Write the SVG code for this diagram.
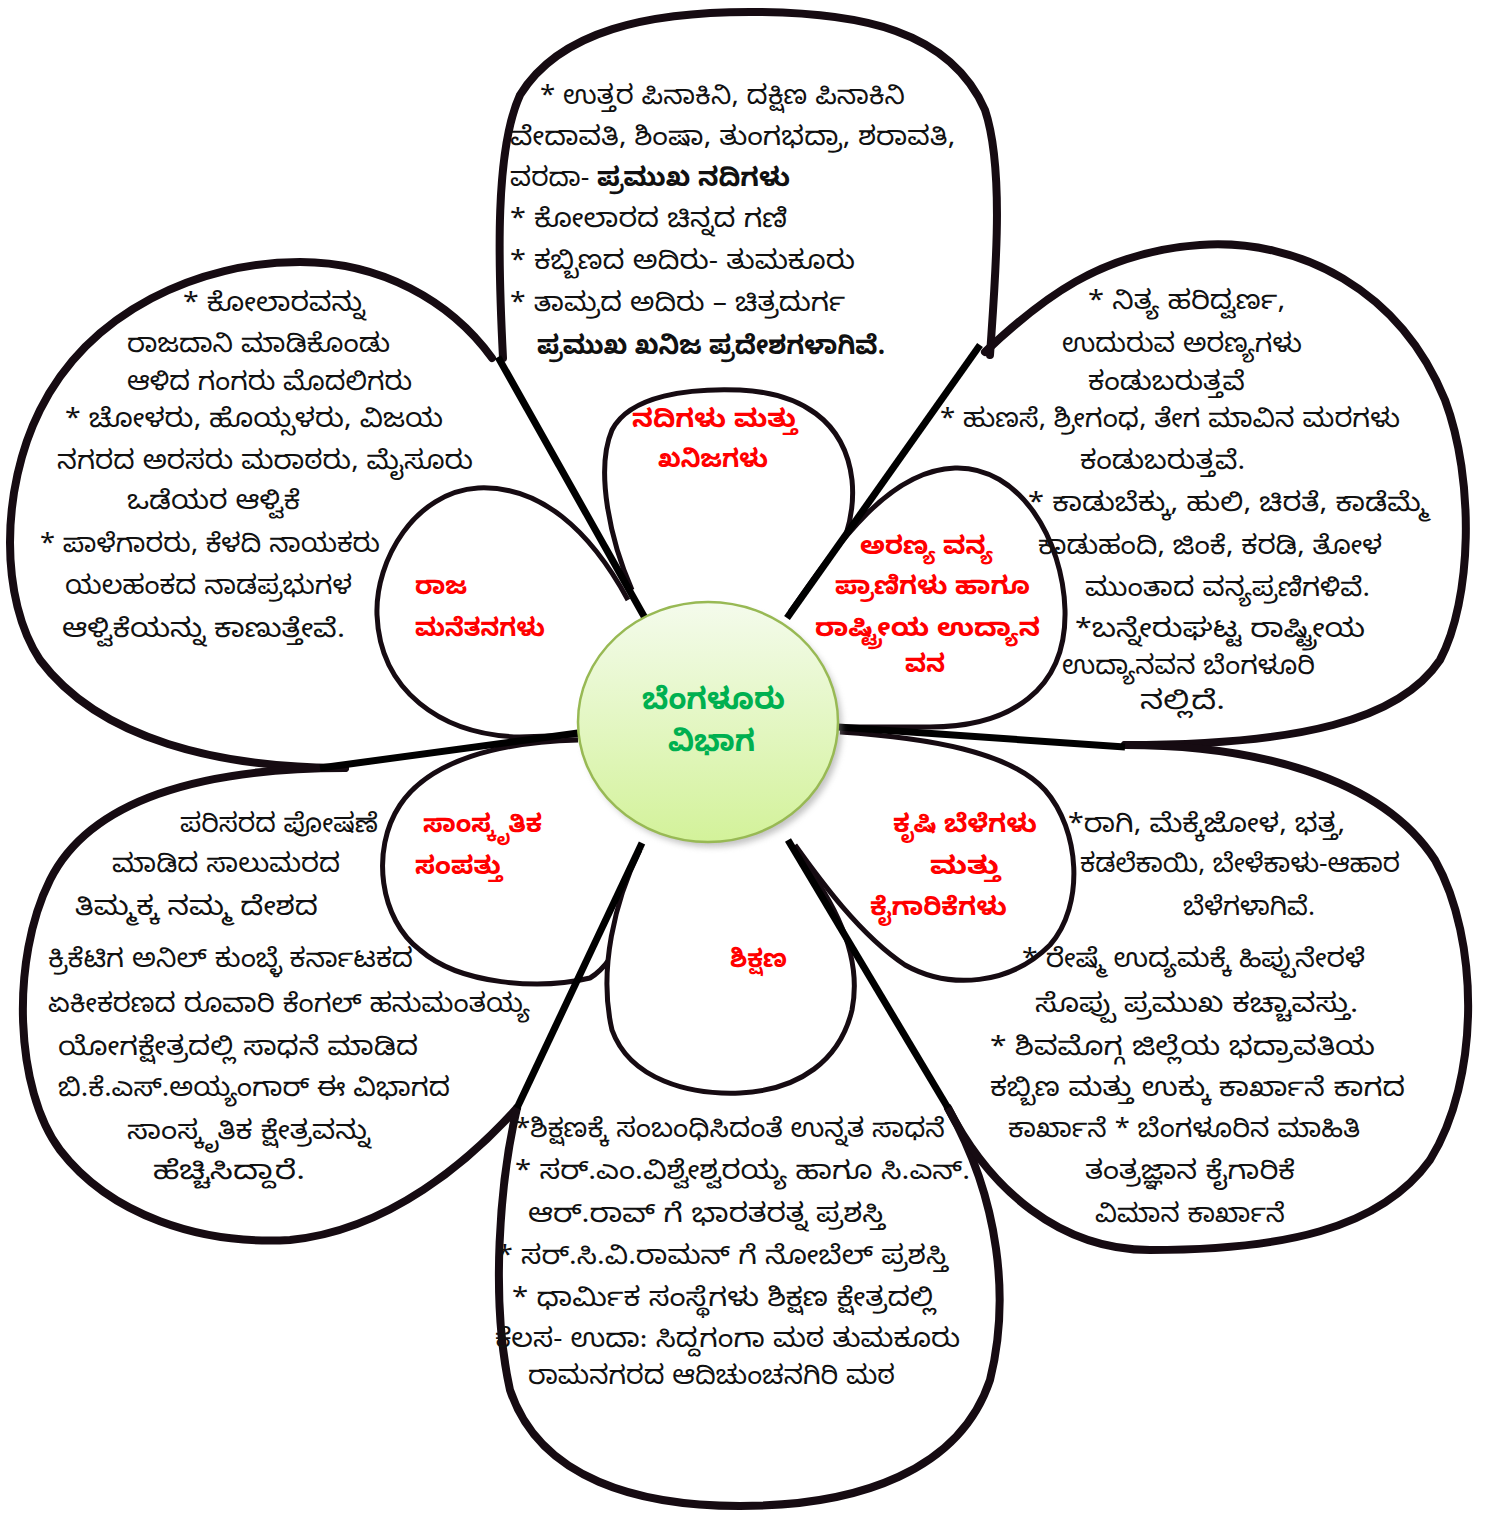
<svg xmlns="http://www.w3.org/2000/svg" width="1497" height="1513" viewBox="0 0 1497 1513">
<defs>
<linearGradient id="cg" x1="0" y1="0" x2="0" y2="1">
<stop offset="0" stop-color="#f4fbec"/>
<stop offset="1" stop-color="#d3f29a"/>
</linearGradient>
<filter id="sh" x="-20%" y="-20%" width="140%" height="140%"><feGaussianBlur stdDeviation="3"/></filter>
<style>
.big{fill:none;stroke:#160b12;stroke-width:8;stroke-linecap:round}
.small{fill:#fff;stroke:#160b12;stroke-width:5}
.ln{stroke:#000;stroke-width:7}
text{font-family:'Noto Sans Kannada','Tunga','Lohit Kannada','Noto Sans',sans-serif}
.t{font-size:26px;fill:#111}
.b{font-weight:bold}
.r{font-size:25px;font-weight:bold;fill:#ff0000}
.g{font-size:30px;font-weight:bold;fill:#00b050}
</style>
</defs>
<rect width="1497" height="1513" fill="#fff"/>

<g id="petal-top"><path class="big" d="M503,358 C498,260 495,150 520,95 C560,30 650,12 750,12 C860,12 950,30 985,110 C1005,170 995,280 990,355"/></g>
<g id="petal-top-right"><path class="big" d="M985,352 C1040,300 1100,252 1200,245 C1300,238 1400,290 1445,400 C1475,480 1472,600 1440,660 C1400,720 1300,745 1125,745"/></g>
<g id="petal-top-left"><path class="big" d="M492,358 C450,300 380,262 300,262 C200,262 90,310 40,410 C0,490 0,600 40,660 C100,740 220,768 345,768"/></g>
<g id="petal-bottom-left"><path class="big" d="M345,768 C200,768 90,800 50,880 C10,960 15,1090 60,1150 C110,1215 200,1245 290,1240 C390,1230 470,1160 517,1108"/></g>
<g id="petal-bottom"><path class="big" d="M517,1108 C500,1180 490,1300 510,1390 C540,1480 640,1506 740,1506 C860,1506 960,1470 990,1380 C1010,1300 1000,1200 948,1108"/></g>
<g id="petal-bottom-right"><path class="big" d="M1125,745 C1250,745 1380,775 1435,860 C1480,940 1480,1080 1430,1160 C1380,1230 1280,1250 1150,1250 C1060,1250 990,1190 948,1108"/></g>

<g id="inner-top"><path class="small" d="M632,590 C610,540 595,470 612,430 C630,395 690,388 740,390 C800,393 845,420 852,480 C858,540 820,590 795,615"/></g>
<g id="inner-left"><path class="small" d="M628,600 C590,530 540,485 478,488 C415,492 375,560 377,615 C380,690 440,735 520,737 L578,735"/></g>
<g id="inner-right"><path class="small" d="M790,612 C840,540 890,470 955,468 C1020,466 1063,540 1065,610 C1067,690 1010,727 930,727 L840,727"/></g>
<g id="inner-lower-left"><path class="small" d="M578,740 C500,742 430,760 400,805 C370,850 380,920 420,950 C460,985 540,990 590,978 C620,960 640,900 645,850"/></g>
<g id="inner-lower-right"><path class="small" d="M840,732 C930,738 1010,752 1045,790 C1080,830 1085,905 1050,945 C1010,985 950,990 905,965 C860,935 820,880 795,845"/></g>
<g id="inner-bottom"><path class="small" d="M640,850 C615,900 598,970 612,1030 C630,1080 690,1095 740,1093 C800,1090 840,1060 852,1010 C862,960 840,905 790,845"/></g>

<g id="connectors">
<line class="ln" x1="498" y1="357" x2="645" y2="618"/>
<line class="ln" x1="980" y1="345" x2="787" y2="618"/>
<line class="ln" x1="320" y1="768" x2="578" y2="733"/>
<line class="ln" x1="838" y1="727" x2="1125" y2="747"/>
<line class="ln" x1="642" y1="843" x2="517" y2="1108"/>
<line class="ln" x1="788" y1="840" x2="948" y2="1108"/>
</g>

<g id="center">
<ellipse cx="712" cy="727" rx="130" ry="120" fill="#888" opacity="0.5" filter="url(#sh)"/>
<ellipse cx="708" cy="722" rx="130" ry="120" fill="url(#cg)" stroke="#98b954" stroke-width="2.5"/>
<text class="g" x="642" y="709" textLength="143" lengthAdjust="spacingAndGlyphs">ಬೆಂಗಳೂರು</text>
<text class="g" x="668" y="751" textLength="87" lengthAdjust="spacingAndGlyphs">ವಿಭಾಗ</text>
</g>

<g id="labels">
<text class="r" x="632" y="427" textLength="165" lengthAdjust="spacingAndGlyphs">ನದಿಗಳು ಮತ್ತು</text>
<text class="r" x="658" y="467" textLength="110" lengthAdjust="spacingAndGlyphs">ಖನಿಜಗಳು</text>
<text class="r" x="860" y="554" textLength="133" lengthAdjust="spacingAndGlyphs">ಅರಣ್ಯ ವನ್ಯ</text>
<text class="r" x="835" y="594" textLength="195" lengthAdjust="spacingAndGlyphs">ಪ್ರಾಣಿಗಳು ಹಾಗೂ</text>
<text class="r" x="815" y="636" textLength="225" lengthAdjust="spacingAndGlyphs">ರಾಷ್ಟ್ರೀಯ ಉದ್ಯಾನ</text>
<text class="r" x="905" y="672" textLength="40" lengthAdjust="spacingAndGlyphs">ವನ</text>
<text class="r" x="415" y="594" textLength="52" lengthAdjust="spacingAndGlyphs">ರಾಜ</text>
<text class="r" x="415" y="636" textLength="130" lengthAdjust="spacingAndGlyphs">ಮನೆತನಗಳು</text>
<text class="r" x="423" y="832" textLength="119" lengthAdjust="spacingAndGlyphs">ಸಾಂಸ್ಕೃತಿಕ</text>
<text class="r" x="415" y="874" textLength="87" lengthAdjust="spacingAndGlyphs">ಸಂಪತ್ತು</text>
<text class="r" x="893" y="832" textLength="144" lengthAdjust="spacingAndGlyphs">ಕೃಷಿ ಬೆಳೆಗಳು</text>
<text class="r" x="930" y="874" textLength="70" lengthAdjust="spacingAndGlyphs">ಮತ್ತು</text>
<text class="r" x="870" y="915" textLength="137" lengthAdjust="spacingAndGlyphs">ಕೈಗಾರಿಕೆಗಳು</text>
<text class="r" x="730" y="967" textLength="57" lengthAdjust="spacingAndGlyphs">ಶಿಕ್ಷಣ</text>
</g>

<g id="text-top">
<text class="t" x="540" y="104" textLength="365" lengthAdjust="spacingAndGlyphs">* ಉತ್ತರ ಪಿನಾಕಿನಿ, ದಕ್ಷಿಣ ಪಿನಾಕಿನಿ</text>
<text class="t" x="510" y="145" textLength="445" lengthAdjust="spacingAndGlyphs">ವೇದಾವತಿ, ಶಿಂಷಾ, ತುಂಗಭದ್ರಾ, ಶರಾವತಿ,</text>
<text class="t" x="510" y="186" textLength="280" lengthAdjust="spacingAndGlyphs">ವರದಾ- <tspan class="b">ಪ್ರಮುಖ ನದಿಗಳು</tspan></text>
<text class="t" x="510" y="227" textLength="277" lengthAdjust="spacingAndGlyphs">* ಕೋಲಾರದ ಚಿನ್ನದ ಗಣಿ</text>
<text class="t" x="510" y="269" textLength="345" lengthAdjust="spacingAndGlyphs">* ಕಬ್ಬಿಣದ ಅದಿರು- ತುಮಕೂರು</text>
<text class="t" x="510" y="311" textLength="335" lengthAdjust="spacingAndGlyphs">* ತಾಮ್ರದ ಅದಿರು – ಚಿತ್ರದುರ್ಗ</text>
<text class="t b" x="537" y="354" textLength="348" lengthAdjust="spacingAndGlyphs">ಪ್ರಮುಖ ಖನಿಜ ಪ್ರದೇಶಗಳಾಗಿವೆ.</text>
</g>

<g id="text-top-left">
<text class="t" x="183" y="311" textLength="182" lengthAdjust="spacingAndGlyphs">* ಕೋಲಾರವನ್ನು</text>
<text class="t" x="127" y="352" textLength="263" lengthAdjust="spacingAndGlyphs">ರಾಜದಾನಿ ಮಾಡಿಕೊಂಡು</text>
<text class="t" x="127" y="390" textLength="285" lengthAdjust="spacingAndGlyphs">ಆಳಿದ ಗಂಗರು ಮೊದಲಿಗರು</text>
<text class="t" x="65" y="427" textLength="378" lengthAdjust="spacingAndGlyphs">* ಚೋಳರು, ಹೊಯ್ಸಳರು, ವಿಜಯ</text>
<text class="t" x="57" y="469" textLength="416" lengthAdjust="spacingAndGlyphs">ನಗರದ ಅರಸರು ಮರಾಠರು, ಮೈಸೂರು</text>
<text class="t" x="127" y="509" textLength="173" lengthAdjust="spacingAndGlyphs">ಒಡೆಯರ ಆಳ್ವಿಕೆ</text>
<text class="t" x="40" y="552" textLength="340" lengthAdjust="spacingAndGlyphs">* ಪಾಳೆಗಾರರು, ಕೆಳದಿ ನಾಯಕರು</text>
<text class="t" x="65" y="594" textLength="287" lengthAdjust="spacingAndGlyphs">ಯಲಹಂಕದ ನಾಡಪ್ರಭುಗಳ</text>
<text class="t" x="62" y="637" textLength="283" lengthAdjust="spacingAndGlyphs">ಆಳ್ವಿಕೆಯನ್ನು ಕಾಣುತ್ತೇವೆ.</text>
</g>

<g id="text-top-right">
<text class="t" x="1088" y="309" textLength="197" lengthAdjust="spacingAndGlyphs">* ನಿತ್ಯ ಹರಿದ್ವರ್ಣ,</text>
<text class="t" x="1062" y="352" textLength="240" lengthAdjust="spacingAndGlyphs">ಉದುರುವ ಅರಣ್ಯಗಳು</text>
<text class="t" x="1088" y="390" textLength="157" lengthAdjust="spacingAndGlyphs">ಕಂಡುಬರುತ್ತವೆ</text>
<text class="t" x="940" y="427" textLength="460" lengthAdjust="spacingAndGlyphs">* ಹುಣಸೆ, ಶ್ರೀಗಂಧ, ತೇಗ ಮಾವಿನ ಮರಗಳು</text>
<text class="t" x="1080" y="469" textLength="165" lengthAdjust="spacingAndGlyphs">ಕಂಡುಬರುತ್ತವೆ.</text>
<text class="t" x="1028" y="511" textLength="400" lengthAdjust="spacingAndGlyphs">* ಕಾಡುಬೆಕ್ಕು, ಹುಲಿ, ಚಿರತೆ, ಕಾಡೆಮ್ಮೆ</text>
<text class="t" x="1038" y="554" textLength="344" lengthAdjust="spacingAndGlyphs">ಕಾಡುಹಂದಿ, ಜಿಂಕೆ, ಕರಡಿ, ತೋಳ</text>
<text class="t" x="1085" y="596" textLength="285" lengthAdjust="spacingAndGlyphs">ಮುಂತಾದ ವನ್ಯಪ್ರಣಿಗಳಿವೆ.</text>
<text class="t" x="1075" y="637" textLength="290" lengthAdjust="spacingAndGlyphs">*ಬನ್ನೇರುಘಟ್ಟ ರಾಷ್ಟ್ರೀಯ</text>
<text class="t" x="1062" y="674" textLength="253" lengthAdjust="spacingAndGlyphs">ಉದ್ಯಾನವನ ಬೆಂಗಳೂರಿ</text>
<text class="t" x="1140" y="709" textLength="85" lengthAdjust="spacingAndGlyphs">ನಲ್ಲಿದೆ.</text>
</g>

<g id="text-bottom-left">
<text class="t" x="180" y="832" textLength="198" lengthAdjust="spacingAndGlyphs">ಪರಿಸರದ ಪೋಷಣೆ</text>
<text class="t" x="112" y="872" textLength="228" lengthAdjust="spacingAndGlyphs">ಮಾಡಿದ ಸಾಲುಮರದ</text>
<text class="t" x="75" y="915" textLength="243" lengthAdjust="spacingAndGlyphs">ತಿಮ್ಮಕ್ಕ ನಮ್ಮ ದೇಶದ</text>
<text class="t" x="48" y="967" textLength="365" lengthAdjust="spacingAndGlyphs">ಕ್ರಿಕೆಟಿಗ ಅನಿಲ್ ಕುಂಬ್ಳೆ ಕರ್ನಾಟಕದ</text>
<text class="t" x="48" y="1012" textLength="482" lengthAdjust="spacingAndGlyphs">ಏಕೀಕರಣದ ರೂವಾರಿ ಕೆಂಗಲ್ ಹನುಮಂತಯ್ಯ</text>
<text class="t" x="58" y="1055" textLength="360" lengthAdjust="spacingAndGlyphs">ಯೋಗಕ್ಷೇತ್ರದಲ್ಲಿ ಸಾಧನೆ ಮಾಡಿದ</text>
<text class="t" x="58" y="1096" textLength="392" lengthAdjust="spacingAndGlyphs">ಬಿ.ಕೆ.ಎಸ್.ಅಯ್ಯಂಗಾರ್ ಈ ವಿಭಾಗದ</text>
<text class="t" x="127" y="1139" textLength="243" lengthAdjust="spacingAndGlyphs">ಸಾಂಸ್ಕೃತಿಕ ಕ್ಷೇತ್ರವನ್ನು</text>
<text class="t" x="153" y="1179" textLength="152" lengthAdjust="spacingAndGlyphs">ಹೆಚ್ಚಿಸಿದ್ದಾರೆ.</text>
</g>

<g id="text-bottom-right">
<text class="t" x="1068" y="832" textLength="277" lengthAdjust="spacingAndGlyphs">*ರಾಗಿ, ಮೆಕ್ಕೆಜೋಳ, ಭತ್ತ,</text>
<text class="t" x="1080" y="872" textLength="320" lengthAdjust="spacingAndGlyphs">ಕಡಲೆಕಾಯಿ, ಬೇಳೆಕಾಳು-ಆಹಾರ</text>
<text class="t" x="1183" y="915" textLength="132" lengthAdjust="spacingAndGlyphs">ಬೆಳೆಗಳಾಗಿವೆ.</text>
<text class="t" x="1022" y="967" textLength="343" lengthAdjust="spacingAndGlyphs">* ರೇಷ್ಮೆ ಉದ್ಯಮಕ್ಕೆ ಹಿಪ್ಪುನೇರಳೆ</text>
<text class="t" x="1035" y="1012" textLength="323" lengthAdjust="spacingAndGlyphs">ಸೊಪ್ಪು ಪ್ರಮುಖ ಕಚ್ಚಾವಸ್ತು.</text>
<text class="t" x="990" y="1055" textLength="385" lengthAdjust="spacingAndGlyphs">* ಶಿವಮೊಗ್ಗ ಜಿಲ್ಲೆಯ ಭದ್ರಾವತಿಯ</text>
<text class="t" x="990" y="1096" textLength="415" lengthAdjust="spacingAndGlyphs">ಕಬ್ಬಿಣ ಮತ್ತು ಉಕ್ಕು ಕಾರ್ಖಾನೆ ಕಾಗದ</text>
<text class="t" x="1008" y="1137" textLength="352" lengthAdjust="spacingAndGlyphs">ಕಾರ್ಖಾನೆ * ಬೆಂಗಳೂರಿನ ಮಾಹಿತಿ</text>
<text class="t" x="1085" y="1179" textLength="210" lengthAdjust="spacingAndGlyphs">ತಂತ್ರಜ್ಞಾನ ಕೈಗಾರಿಕೆ</text>
<text class="t" x="1095" y="1222" textLength="190" lengthAdjust="spacingAndGlyphs">ವಿಮಾನ ಕಾರ್ಖಾನೆ</text>
</g>

<g id="text-bottom">
<text class="t" x="515" y="1137" textLength="430" lengthAdjust="spacingAndGlyphs">*ಶಿಕ್ಷಣಕ್ಕೆ ಸಂಬಂಧಿಸಿದಂತೆ ಉನ್ನತ ಸಾಧನೆ</text>
<text class="t" x="515" y="1179" textLength="455" lengthAdjust="spacingAndGlyphs">* ಸರ್.ಎಂ.ವಿಶ್ವೇಶ್ವರಯ್ಯ ಹಾಗೂ ಸಿ.ಎನ್.</text>
<text class="t" x="528" y="1222" textLength="357" lengthAdjust="spacingAndGlyphs">ಆರ್.ರಾವ್ ಗೆ ಭಾರತರತ್ನ ಪ್ರಶಸ್ತಿ</text>
<text class="t" x="497" y="1264" textLength="451" lengthAdjust="spacingAndGlyphs">* ಸರ್.ಸಿ.ವಿ.ರಾಮನ್ ಗೆ  ನೋಬೆಲ್ ಪ್ರಶಸ್ತಿ</text>
<text class="t" x="512" y="1306" textLength="423" lengthAdjust="spacingAndGlyphs">* ಧಾರ್ಮಿಕ ಸಂಸ್ಥೆಗಳು ಶಿಕ್ಷಣ ಕ್ಷೇತ್ರದಲ್ಲಿ</text>
<text class="t" x="495" y="1347" textLength="465" lengthAdjust="spacingAndGlyphs">ಕೆಲಸ- ಉದಾ: ಸಿದ್ದಗಂಗಾ ಮಠ ತುಮಕೂರು</text>
<text class="t" x="528" y="1384" textLength="367" lengthAdjust="spacingAndGlyphs">ರಾಮನಗರದ ಆದಿಚುಂಚನಗಿರಿ ಮಠ</text>
</g>
</svg>
